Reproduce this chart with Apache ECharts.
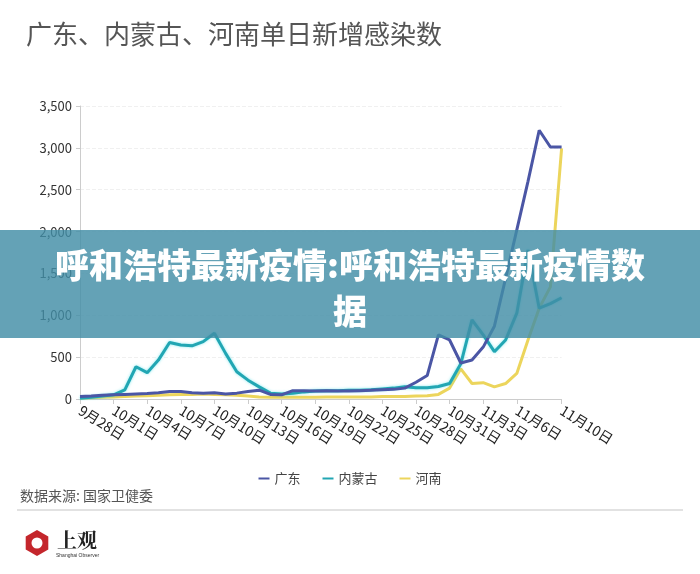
<!DOCTYPE html>
<html>
<head>
<meta charset="utf-8">
<script src="https://cdn.jsdelivr.net/npm/echarts@6/dist/echarts.min.js"></script>
<style>
html,body{margin:0;padding:0;background:#fff;}
#main{width:700px;height:574px;}
</style>
</head>
<body>
<div id="main"></div>
<script>
var titleText = '广东、内蒙古、河南单日新增感染数';
var bannerLine1 = '呼和浩特最新疫情:呼和浩特最新疫情数';
var bannerLine2 = '据';
var sourceText = '数据来源: 国家卫健委';
var seriesNames = ['广东', '内蒙古', '河南'];
var categories = [
 '9月28日','9月29日','9月30日',
 '10月1日','10月2日','10月3日','10月4日','10月5日','10月6日','10月7日','10月8日','10月9日','10月10日',
 '10月11日','10月12日','10月13日','10月14日','10月15日','10月16日','10月17日','10月18日','10月19日','10月20日',
 '10月21日','10月22日','10月23日','10月24日','10月25日','10月26日','10月27日','10月28日','10月29日','10月30日','10月31日',
 '11月1日','11月2日','11月3日','11月4日','11月5日','11月6日','11月7日','11月8日','11月9日','11月10日'
];
var guangdong = [30,35,45,50,55,60,65,75,90,90,75,70,75,60,70,90,105,55,50,100,100,95,100,95,95,100,105,110,115,130,200,280,765,705,430,465,620,870,1440,2020,2600,3210,3010,3010];
var neimenggu = [10,20,35,50,110,385,315,465,675,645,635,685,785,545,325,225,145,70,60,70,85,95,100,100,105,105,110,120,130,145,135,135,150,185,420,945,765,565,705,1025,1780,1085,1140,1210];
var henan = [10,15,20,25,30,35,40,45,50,55,55,60,55,50,45,35,25,20,20,20,20,20,25,25,25,25,25,30,30,30,35,40,55,130,360,185,195,145,185,305,705,1085,1340,2995];
var yTicks = {min:0, max:3500, interval:500};

var chart = echarts.init(document.getElementById('main'));
var lastIdx = categories.length - 1;
function showIdx(i){ return (i % 3 === 0 && i < lastIdx - 2) || i === lastIdx; }
var font = '"Noto Sans CJK SC", "Noto Sans", sans-serif';

var option = {
  backgroundColor: '#fff',
  textStyle: {fontFamily: font},
  title: {
    text: titleText, left: 21, top: 16,
    textStyle: {fontSize: 26, fontWeight: 'normal', color: '#555', fontFamily: font}
  },
  legend: {
    data: seriesNames, left: 'center', top: 467,
    icon: 'rect', itemWidth: 11, itemHeight: 2, itemGap: 22,
    textStyle: {fontSize: 13, color: '#444', fontFamily: font}
  },
  grid: {left: 80, right: 138.4, top: 106, bottom: 175, containLabel: false},
  xAxis: {
    type: 'category', data: categories, boundaryGap: false,
    axisLine: {lineStyle: {color: '#ccc', width: 1}},
    axisTick: {show: true, interval: function(i){return showIdx(i);}, length: 5, lineStyle: {color: '#ccc'}},
    axisLabel: {interval: function(i){return showIdx(i);}, rotate: -32, fontSize: 14, color: '#222', margin: 10, fontFamily: font}
  },
  yAxis: {
    type: 'value', min: yTicks.min, max: yTicks.max, interval: yTicks.interval,
    axisLine: {show: true, lineStyle: {color: '#ccc'}},
    axisTick: {show: true, length: 4, lineStyle: {color: '#ccc'}},
    axisLabel: {fontSize: 13, color: '#333', margin: 8, fontFamily: font,
      formatter: function(v){ return v.toLocaleString('en-US'); }},
    splitLine: {lineStyle: {color: '#f0f0f0', type: 'dashed'}}
  },
  series: [
    {name: seriesNames[0], type: 'line', data: guangdong, showSymbol: false, color: '#4b56a5',
     lineStyle: {width: 3, color: '#4b56a5'}, z: 3},
    {name: seriesNames[1], type: 'line', data: neimenggu, showSymbol: false, color: '#22a6b3',
     lineStyle: {width: 3, color: '#22a6b3', shadowColor: 'rgba(60,220,230,0.6)', shadowBlur: 3}, z: 2},
    {name: seriesNames[2], type: 'line', data: henan, showSymbol: false, color: '#ecd55c',
     lineStyle: {width: 3, color: '#ecd55c'}, z: 1}
  ],
  graphic: [
    {type: 'rect', left: 0, top: 230, z: 100, shape: {width: 700, height: 108},
     style: {fill: 'rgba(66,142,166,0.82)'}},
    {type: 'text', left: 'center', top: 248, z: 101,
     style: {text: bannerLine1, fill: '#fff', font: '900 34px "Noto Sans CJK SC", sans-serif',
       shadowColor: 'rgba(0,0,0,0.45)', shadowBlur: 3, shadowOffsetX: 1, shadowOffsetY: 1}},
    {type: 'text', left: 'center', top: 294, z: 101,
     style: {text: bannerLine2, fill: '#fff', font: '900 34px "Noto Sans CJK SC", sans-serif',
       shadowColor: 'rgba(0,0,0,0.45)', shadowBlur: 3, shadowOffsetX: 1, shadowOffsetY: 1}},
    {type: 'text', left: 20, top: 489, z: 10,
     style: {text: sourceText, fill: '#555', font: '14px "Noto Sans CJK SC", sans-serif'}},
    {type: 'line', z: 10, shape: {x1: 17, y1: 510, x2: 683, y2: 510},
     style: {stroke: '#d8d8d8', lineWidth: 1.5}},
    {type: 'polygon', z: 10, shape: {points: [[37,530],[48.3,536.5],[48.3,549.5],[37,556],[25.7,549.5],[25.7,536.5]]},
     style: {fill: '#c4262c'}},
    {type: 'circle', z: 11, shape: {cx: 37, cy: 543, r: 5.5}, style: {fill: '#fff'}},
    {type: 'text', left: 57, top: 530, z: 10,
     style: {text: '上观', fill: '#222', font: 'bold 20px "Noto Serif CJK SC", "Noto Sans CJK SC", serif'}},
    {type: 'text', left: 56, top: 553, z: 10,
     style: {text: 'Shanghai Observer', fill: '#333', font: '5px sans-serif'}}
  ]
};
chart.setOption(option);
</script>
</body>
</html>
